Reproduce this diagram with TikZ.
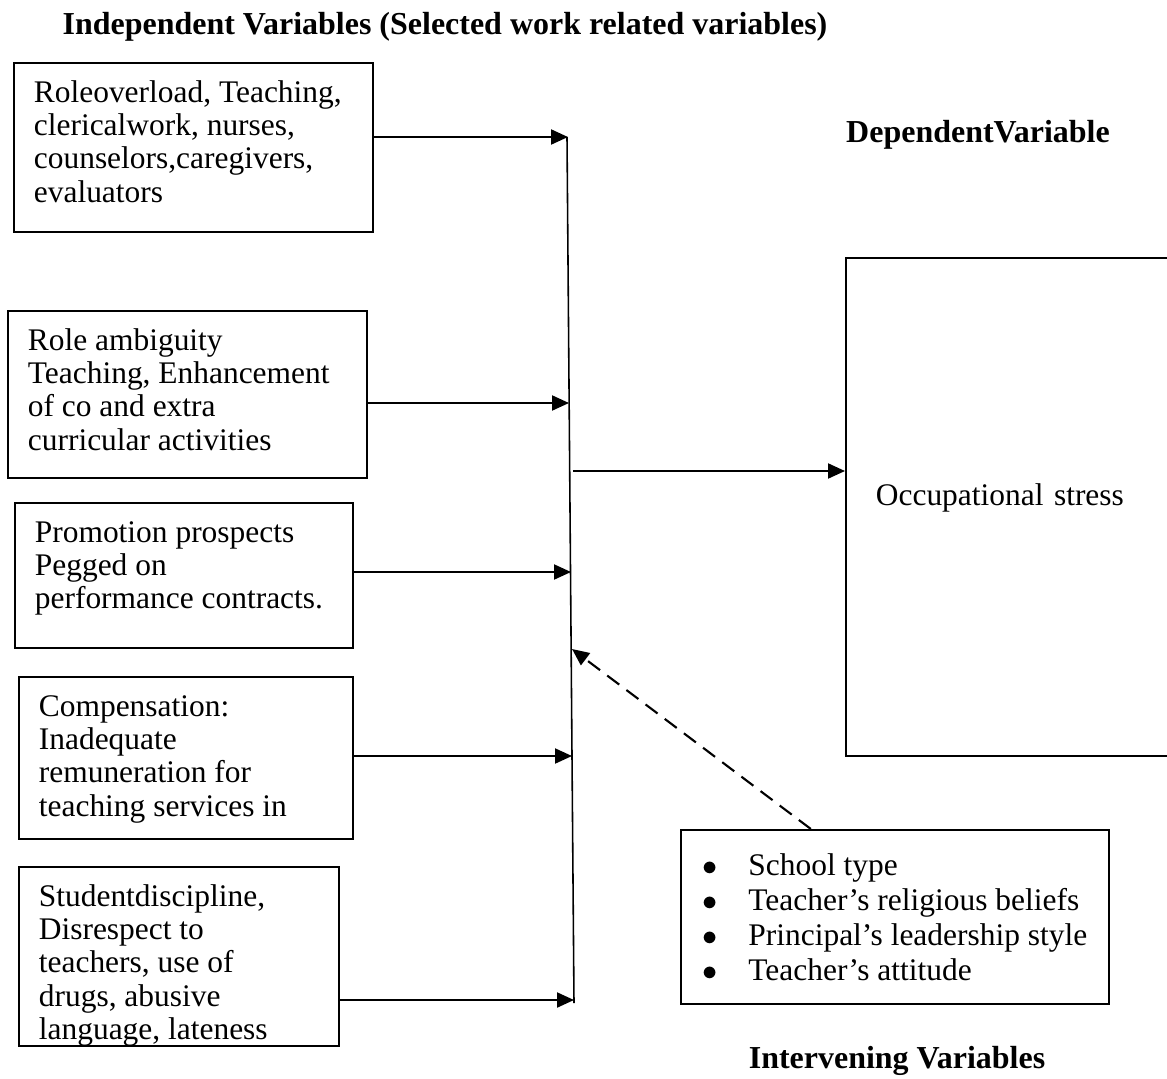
\documentclass[tikz,border=0pt]{standalone}
\usepackage{fontspec}
\setmainfont{Liberation Serif}
\usetikzlibrary{positioning, arrows.meta}

% 方框内文字：固定高度，顶端对齐
\newcommand{\boxtext}[3]{\parbox[c][#1][t]{#2}{\raggedright\strut #3}}

\tikzset{
  varbox/.style={draw, line width=1pt, anchor=north west, inner xsep=0.4cm, inner ysep=0.32cm},
  flow/.style={line width=1.2pt, -{Triangle[length=0.34cm, width=0.3cm]}},
  modflow/.style={flow, dash pattern=on 0.3cm off 0.18cm},
  heading/.style={font=\fontsize{18.2pt}{19pt}\selectfont\bfseries}
}

\begin{document}
\begin{tikzpicture}[x=0.02cm, y=-0.02cm, font=\fontsize{17.9pt}{18.95pt}\selectfont]
		\useasboundingbox (0,0) rectangle (1167,1079);

		% 标题
		\node[heading] (indeplabel) at (445,27) {Independent Variables (Selected work related variables)};
		\node[heading] (deplabel) at (978,135) {DependentVariable};
		\node[heading] (intlabel) at (897,1061) {Intervening Variables};

		% 自变量方框
		\node[varbox] (overload) at (13,62)
			{\boxtext{2.74cm}{6.38cm}{Roleoverload, Teaching,\\ clericalwork, nurses,\\ counselors,caregivers,\\ evaluators}};
		\node[varbox] (ambiguity) at (7,310)
			{\boxtext{2.70cm}{6.38cm}{Role ambiguity\\ Teaching, Enhancement\\ of co and extra\\ curricular activities}};
		\node[varbox] (promotion) at (14,502)
			{\boxtext{2.26cm}{5.96cm}{Promotion prospects\\ Pegged on\\ performance contracts.}};
		\node[varbox] (pay) at (18,676)
			{\boxtext{2.60cm}{5.88cm}{Compensation:\\ Inadequate\\ remuneration for\\ teaching services in}};
		\node[varbox] (discipline) at (18,866)
			{\boxtext{2.94cm}{5.6cm}{Studentdiscipline,\\ Disrespect to\\ teachers, use of\\ drugs, abusive\\ language, lateness}};

		% 因变量方框（右侧超出画面）
		\node[varbox, align=left, text width=5.5cm, inner xsep=0.6cm, inner ysep=0pt, minimum height=9.96cm, text depth=0.5cm] (stress) at (845,257)
			{Occupational stress};

		% 中介变量方框
		\node[draw, line width=1pt, anchor=north west, align=left, minimum width=8.56cm, minimum height=3.48cm,
			font=\fontsize{17.9pt}{19.9pt}\selectfont] (moderators) at (680,829)
			{\makebox[0.92cm][l]{$\bullet$}School type\\
			 \makebox[0.92cm][l]{$\bullet$}Teacher's religious beliefs\\
			 \makebox[0.92cm][l]{$\bullet$}Principal's leadership style\\
			 \makebox[0.92cm][l]{$\bullet$}Teacher's attitude};

		% 汇总竖线
		\coordinate (spinetop) at (567,137);
		\coordinate (spinebot) at (574,1003);
		\draw[line width=0.9pt] (spinetop) -- (spinebot);

		% 箭头终点
		\coordinate (in1) at (568,137);
		\coordinate (in2) at (569,403);
		\coordinate (in3) at (571,572);
		\coordinate (in4) at (572,756);
		\coordinate (in5) at (574,1000);
		\coordinate (out) at (573,471);
		\coordinate (mod) at (572,649);

		% 箭头
		\draw[flow] (overload.east |- in1) -- (in1);
		\draw[flow] (ambiguity.east |- in2) -- (in2);
		\draw[flow] (promotion.east |- in3) -- (in3);
		\draw[flow] (pay.east |- in4) -- (in4);
		\draw[flow] (discipline.east |- in5) -- (in5);
		\draw[flow] (out) -- (stress.west |- out);
		\draw[modflow] ([xshift=-1.68cm]moderators.north) -- (mod);
	\end{tikzpicture}
\end{document}
